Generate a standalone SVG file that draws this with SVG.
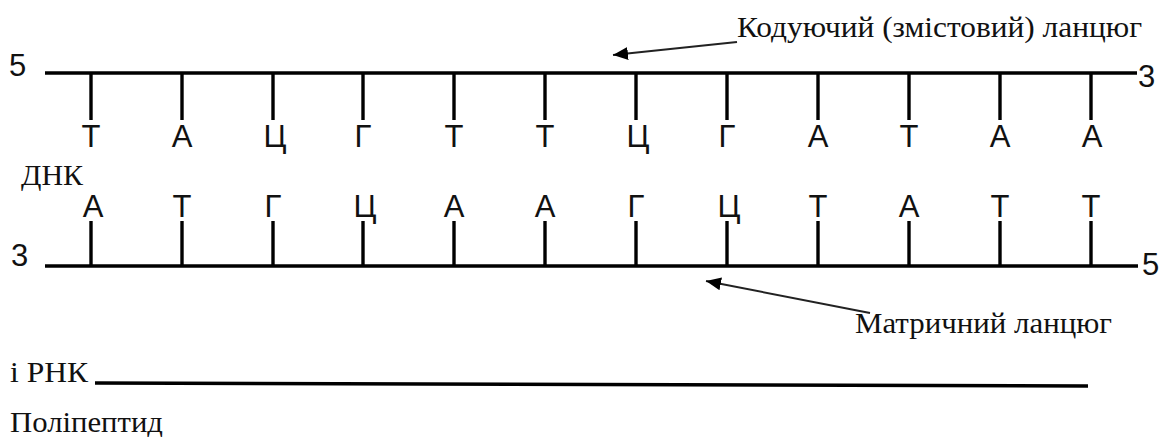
<svg xmlns="http://www.w3.org/2000/svg" width="1160" height="437" viewBox="0 0 1160 437">
  <style>
    .strand { stroke: #000; stroke-width: 3.6; fill: none; }
    .tick { stroke: #000; stroke-width: 3.4; }
    .base { font-family: "Liberation Sans", Arial, sans-serif; font-size: 31px; fill: #111; text-anchor: middle; }
    .end { font-family: "Liberation Sans", Arial, sans-serif; font-size: 31px; fill: #111; }
    .label { font-family: Tinos, "Liberation Serif", "DejaVu Serif", FreeSerif, "Noto Serif", "Times New Roman", Times, serif; font-size: 30px; fill: #111; }
    .leader { stroke: #222; stroke-width: 2; fill: none; }
  </style>
  <defs>
    <marker id="arrowhead" markerUnits="userSpaceOnUse" markerWidth="16" markerHeight="14" refX="15" refY="6.5" orient="auto">
      <path d="M0,0 L15,6.5 L0,13 z" fill="#000"/>
    </marker>
  </defs>

  <rect width="1160" height="437" fill="#fff"/>

  <!-- coding (sense) strand, 5' -> 3' -->
  <g id="coding-strand">
    <line class="strand" x1="45" y1="73" x2="1137" y2="73"/>
    <text class="end" x="9" y="76">5</text>
    <text class="end" x="1138" y="87">3</text>
    <g class="tick">
      <line x1="91" y1="73" x2="91" y2="120"/>
      <line x1="182" y1="73" x2="182" y2="120"/>
      <line x1="273" y1="73" x2="273" y2="120"/>
      <line x1="363" y1="73" x2="363" y2="120"/>
      <line x1="454" y1="73" x2="454" y2="120"/>
      <line x1="545" y1="73" x2="545" y2="120"/>
      <line x1="636" y1="73" x2="636" y2="120"/>
      <line x1="727" y1="73" x2="727" y2="120"/>
      <line x1="818" y1="73" x2="818" y2="120"/>
      <line x1="909" y1="73" x2="909" y2="120"/>
      <line x1="1000" y1="73" x2="1000" y2="120"/>
      <line x1="1091" y1="73" x2="1091" y2="120"/>
    </g>
    <g class="base">
      <text x="91" y="147">Т</text>
      <text x="182" y="147">А</text>
      <text x="275" y="147">Ц</text>
      <text x="363" y="147">Г</text>
      <text x="454" y="147">Т</text>
      <text x="545" y="147">Т</text>
      <text x="638" y="147">Ц</text>
      <text x="727" y="147">Г</text>
      <text x="818" y="147">А</text>
      <text x="909" y="147">Т</text>
      <text x="1000" y="147">А</text>
      <text x="1092" y="147">А</text>
    </g>
  </g>

  <g id="dna-label">
    <text class="label" font-family="Liberation Serif, serif" x="21" y="185" textLength="62" lengthAdjust="spacingAndGlyphs">ДНК</text>
  </g>

  <!-- template strand, 3' -> 5' -->
  <g id="template-strand">
    <line class="strand" x1="45" y1="266" x2="1138" y2="266"/>
    <text class="end" x="11" y="266">3</text>
    <text class="end" x="1142" y="275">5</text>
    <g class="tick">
      <line x1="91" y1="221" x2="91" y2="266"/>
      <line x1="182" y1="221" x2="182" y2="266"/>
      <line x1="273" y1="221" x2="273" y2="266"/>
      <line x1="363" y1="221" x2="363" y2="266"/>
      <line x1="454" y1="221" x2="454" y2="266"/>
      <line x1="545" y1="221" x2="545" y2="266"/>
      <line x1="636" y1="221" x2="636" y2="266"/>
      <line x1="727" y1="221" x2="727" y2="266"/>
      <line x1="818" y1="221" x2="818" y2="266"/>
      <line x1="909" y1="221" x2="909" y2="266"/>
      <line x1="1000" y1="221" x2="1000" y2="266"/>
      <line x1="1091" y1="221" x2="1091" y2="266"/>
    </g>
    <g class="base">
      <text x="93" y="217">А</text>
      <text x="182" y="217">Т</text>
      <text x="273" y="217">Г</text>
      <text x="365" y="217">Ц</text>
      <text x="454" y="217">А</text>
      <text x="545" y="217">А</text>
      <text x="636" y="217">Г</text>
      <text x="729" y="217">Ц</text>
      <text x="818" y="217">Т</text>
      <text x="909" y="217">А</text>
      <text x="1000" y="217">Т</text>
      <text x="1091" y="217">Т</text>
    </g>
  </g>

  <g id="coding-label">
    <text class="label" x="737" y="37" textLength="405" lengthAdjust="spacingAndGlyphs">Кодуючий (змістовий) ланцюг</text>
  </g>

  <g id="template-label">
    <text class="label" x="855" y="333" textLength="257" lengthAdjust="spacingAndGlyphs">Матричний ланцюг</text>
  </g>

  <g id="mrna">
    <text class="label" x="10" y="382" textLength="78" lengthAdjust="spacingAndGlyphs">і РНК</text>
    <line class="strand" x1="95" y1="383" x2="1088" y2="386" stroke-width="3"/>
  </g>

  <g id="polypeptide">
    <text class="label" x="10" y="432" textLength="153" lengthAdjust="spacingAndGlyphs">Поліпептид</text>
  </g>

  <!-- leader arrows from the labels to the strands -->
  <g id="connectors">
    <line class="leader" x1="737" y1="42" x2="613" y2="55" marker-end="url(#arrowhead)"/>
    <line class="leader" x1="870" y1="313" x2="706" y2="281" marker-end="url(#arrowhead)"/>
  </g>
</svg>
